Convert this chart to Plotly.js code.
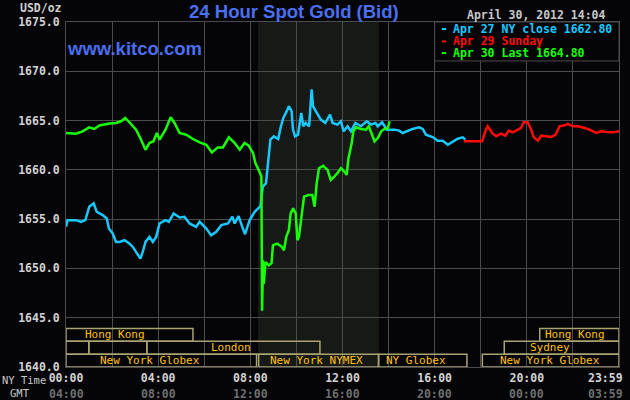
<!DOCTYPE html>
<html><head><meta charset="utf-8">
<script src="https://cdn.plot.ly/plotly-3.0.1.min.js"></script>
<style>html,body{margin:0;padding:0;background:#050508;}#chart{width:630px;height:400px;}</style>
</head><body><div id="chart"></div>
<script>
// ---- data (hours in NY time, price USD/oz) ----
const cyanHours = [0,0.07,0.43,0.65,0.84,1.01,1.20,1.33,1.59,1.77,1.86,2.03,2.17,2.32,2.54,2.75,2.90,3.04,3.23,3.33,3.45,3.62,3.77,3.91,4.06,4.32,4.46,4.67,4.93,5.14,5.36,5.65,5.80,6.09,6.30,6.52,6.74,7.03,7.22,7.32,7.49,7.65,7.77,7.97,8.19,
  8.44,8.54,8.68,8.77,8.87,9.02,9.21,9.31,9.43,9.56,9.67,9.79,9.85,9.94,10.07,10.21,10.30,10.40,10.55,10.66,10.72,10.84,11.06,11.25,11.46,11.57,11.78,11.93,12.05,12.22,12.37,12.56,12.80,13.05,13.24,13.43,13.53,13.72,13.92,
  14.25,14.46,14.61,14.83,15.04,15.33,15.48,15.62,15.91,16.13,16.35,16.57,16.78,17.0,17.22,17.33];
const cyanPrices = [1654.22,1654.9,1654.9,1654.73,1654.9,1656.26,1656.6,1655.75,1655.41,1655.07,1654.05,1653.54,1652.69,1652.69,1652.86,1652.52,1652.18,1651.67,1650.99,1651.67,1652.69,1653.2,1652.69,1653.2,1654.56,1654.9,1654.73,1655.58,1655.17,1655.24,1654.56,1654.22,1654.73,1654.05,1653.37,1653.71,1654.39,1654.56,1655.24,1654.56,1655.31,1654.22,1653.47,1654.9,1655.75,
  1656.33,1658.3,1658.64,1661.02,1663.06,1663.4,1663.13,1664.25,1665.27,1665.85,1666.46,1665.95,1664.08,1663.4,1663.57,1665.78,1664.42,1664.76,1664.42,1668.16,1666.46,1665.95,1665.1,1664.76,1665.61,1664.76,1664.59,1664.93,1663.91,1664.42,1663.91,1664.76,1664.42,1664.93,1664.59,1664.76,1664.42,1664.83,1664.08,
  1664.08,1663.98,1663.74,1663.98,1664.15,1664.32,1664.15,1663.57,1663.33,1662.96,1662.96,1662.55,1662.89,1663.16,1663.3,1663.06];

const redHours = [17.26,18.06,18.2,18.3,18.41,18.49,18.67,18.88,19.07,19.22,19.39,19.61,19.75,19.86,20.04,20.19,20.29,20.48,20.62,20.84,21.06,21.25,21.42,21.64,21.78,22.0,22.22,22.51,22.72,23.01,23.23,23.45,23.74,24.0];
const redPrices = [1662.9,1662.9,1663.91,1664.42,1664.08,1663.74,1663.4,1663.67,1663.47,1663.98,1663.81,1664.08,1664.25,1664.83,1664.83,1664.08,1663.33,1662.96,1663.47,1663.4,1663.33,1663.57,1664.42,1664.52,1664.66,1664.42,1664.42,1664.25,1664.08,1663.74,1663.91,1663.84,1663.81,1663.91];

const greenHours = [0.00,0.43,0.72,1.01,1.23,1.45,1.88,2.17,2.39,2.57,2.75,3.04,3.26,3.45,3.62,3.80,3.94,4.06,4.32,4.54,4.71,4.93,5.22,5.51,5.80,6.09,6.33,6.59,6.81,7.07,7.32,7.54,7.75,7.93,8.12,8.22,8.36,8.48,8.51,8.55,8.58,8.66,8.80,8.92,8.98,9.16,9.35,9.46,9.56,9.67,9.75,9.86,9.97,10.04,10.11,10.23,10.33,10.52,10.69,10.79,10.88,10.98,11.16,11.35,11.49,11.64,11.78,11.93,12.08,12.18,12.26,12.40,12.47,12.59,12.80,13.02,13.14,13.28,13.39,13.53,13.68,13.82,13.97,14.04];
const greenPrices = [1663.74,1663.67,1663.9,1664.3,1664.15,1664.5,1664.7,1664.76,1664.93,1665.27,1664.83,1664.08,1663.06,1662.04,1662.72,1662.9,1663.74,1663.06,1664.08,1665.34,1664.76,1663.74,1663.57,1663.13,1662.79,1662.55,1661.77,1662.28,1662.28,1663.3,1662.72,1662.04,1662.72,1662.45,1661.7,1660.68,1660.0,1659.32,1645.71,1650.82,1648.44,1650.65,1650.31,1650.54,1652.35,1652.52,1652.24,1651.84,1653.2,1653.88,1655.58,1656.09,1655.58,1652.86,1653.2,1655.24,1657.28,1657.45,1657.45,1656.26,1658.64,1660.17,1660.41,1660.0,1658.98,1659.32,1659.66,1660.17,1659.83,1659.49,1661.19,1662.72,1663.91,1664.32,1664.15,1664.08,1664.42,1663.57,1662.89,1663.23,1663.91,1664.15,1664.25,1664.93];

const seriesLabels = ['Apr 27 NY close 1662.80', 'Apr 29 Sunday', 'Apr 30 Last 1664.80'];
const seriesColors = ['#19c8ff', '#ff0a0a', '#19ff0a'];

const gridHours = [0,2,4,6,8,10,12,14,16,18,20,22,24];
const nyTickText = ['00:00','','04:00','','08:00','','12:00','','16:00','','20:00','','23:59'];
const gmtTickText = ['04:00','','08:00','','12:00','','16:00','','20:00','','00:00','','03:59'];

// trading sessions: name, row (0=top), start hour, end hour
const sessionNames  = ['Hong Kong','Hong Kong','','','London','Sydney','New York Globex','New York NYMEX','NY Globex','New York Globex'];
const sessionRows   = [0,0,1,1,1,1,2,2,2,2];
const sessionStarts = [0,20.56,0,0.99,3.51,19.02,0,8.36,13.57,18.07];
const sessionEnds   = [5.51,24,0.99,3.51,11.02,24,8.27,13.56,17.4,24];
const pitStart = 8.33, pitEnd = 13.58;

// ---- styling/layout ----
const labelHour = [2.13,22.07,null,null,7.15,21.0,3.63,10.89,15.2,21.02];
const rowBounds = [[1642.6,1643.9],[1641.3,1642.6],[1640,1641.3]];
const bg = '#050508', grid = '#4c4c4c';
const mono = 'DejaVu Sans Mono, Liberation Mono, monospace';
const sans = 'Liberation Sans, Arial, sans-serif';
const lastLabelX = 1.0109; // right edge of the last time labels (paper)

const traces = [
  {x: cyanHours, y: cyanPrices, color: seriesColors[0]},
  {x: redHours, y: redPrices, color: seriesColors[1]},
  {x: greenHours, y: greenPrices, color: seriesColors[2]}
].map(s => ({x: s.x, y: s.y, type: 'scatter', mode: 'lines', line: {color: s.color, width: 2.5, shape: 'linear'}, hoverinfo: 'skip'}));

const shapes = [];
const annotations = [];
// pit session shading
shapes.push({type:'rect', xref:'x', yref:'paper', x0:pitStart, x1:pitEnd, y0:0, y1:1, fillcolor:'#161916', line:{width:0}, layer:'below'});
// legend box
shapes.push({type:'rect', xref:'x', yref:'y', x0:16, x1:24, y0:1671.05, y1:1675, fillcolor:bg, line:{color:grid, width:1}, layer:'above'});
const legendRowY = [0.9797, 0.9437, 0.9100];
seriesLabels.forEach((t, i) => {
  shapes.push({type:'line', xref:'x', yref:'paper', x0:16.31, x1:16.5, y0:legendRowY[i], y1:legendRowY[i], line:{color:seriesColors[i], width:2}, layer:'above'});
});
// legend text as one block, 12px line pitch
const legendText = seriesLabels.map((t, i) => `<span style="font-size:11.5px;color:${seriesColors[i]}">${t}</span>`).join('<br>');
annotations.push({xref:'paper', yref:'paper', x:0.6972, y:0.9443, xanchor:'left', yanchor:'middle', align:'left', showarrow:false, text:legendText, borderpad:0, font:{family:mono, size:9.23, color:'#ffffff', weight:'bold'}});
// sessions
sessionNames.forEach((n, i) => {
  const rb = rowBounds[sessionRows[i]];
  shapes.push({type:'rect', xref:'x', yref:'y', x0:sessionStarts[i], x1:sessionEnds[i], y0:rb[0], y1:rb[1], line:{color:'#a9a372', width:1.5}, fillcolor:'rgba(0,0,0,0)', layer:'above'});
  if (n) annotations.push({xref:'x', yref:'y', x:labelHour[i], y:(rb[0]+rb[1])/2, xanchor:'center', yanchor:'middle', showarrow:false, text:n, font:{family:mono, size:11, color:'#ffc20a'}});
});
// time label rows (last label pulled inside the page)
const lastIdx = gridHours.length - 1;
annotations.push({xref:'paper', yref:'paper', x:lastLabelX, y:-0.0322, xanchor:'right', yanchor:'middle', showarrow:false, text:nyTickText[lastIdx], font:{family:mono, size:11.5, color:'#d2d2d2', weight:'bold'}});
gridHours.forEach((h, i) => {
  if (!gmtTickText[i]) return;
  if (i === lastIdx) annotations.push({xref:'paper', yref:'paper', x:lastLabelX, y:-0.0772, xanchor:'right', yanchor:'middle', showarrow:false, text:gmtTickText[i], font:{family:mono, size:11.5, color:'#6e6e6e', weight:'bold'}});
  else annotations.push({xref:'x', yref:'paper', x:h, y:-0.0772, xanchor:'center', yanchor:'middle', showarrow:false, text:gmtTickText[i], font:{family:mono, size:11.5, color:'#6e6e6e', weight:'bold'}});
});
const axisTickText = nyTickText.map((t, i) => i === lastIdx ? '' : t);
annotations.push({xref:'paper', yref:'paper', x:-0.076, y:-0.0386, xanchor:'center', yanchor:'middle', showarrow:false, text:'NY Time', font:{family:mono, size:10.5, color:'#c8c8c8'}});
annotations.push({xref:'paper', yref:'paper', x:-0.0833, y:-0.0764, xanchor:'center', yanchor:'middle', showarrow:false, text:'GMT', font:{family:mono, size:10.5, color:'#c8c8c8'}});
annotations.push({xref:'paper', yref:'paper', x:-0.046, y:1.0415, xanchor:'center', yanchor:'middle', showarrow:false, text:'USD/oz', font:{family:mono, size:11.5, color:'#d0d0d0', weight:'bold'}});
annotations.push({xref:'paper', yref:'paper', x:0.980, y:1.0212, xanchor:'right', yanchor:'middle', showarrow:false, text:'April 30, 2012 14:04', font:{family:mono, size:11.5, color:'#c8c8c8', weight:'bold'}});
annotations.push({xref:'paper', yref:'paper', x:-0.001, y:0.9225, xanchor:'left', yanchor:'middle', showarrow:false, text:'www.kitco.com', font:{family:sans, size:18.5, color:'#4a6ff0', weight:'bold'}});

const layout = {
  width: 630, height: 400,
  margin: {l: 66, r: 11, t: 22, b: 33, pad: 0},
  paper_bgcolor: bg, plot_bgcolor: bg,
  showlegend: false,
  title: {text: '24 Hour Spot Gold (Bid)', x: 0.4665, xanchor: 'center', xref: 'container', y: 0.97, yanchor: 'middle', yref: 'container', font: {family: sans, size: 18.5, color: '#4a6ff0', weight: 'bold'}},
  xaxis: {range: [0, 24], tickmode: 'array', tickvals: gridHours, ticktext: axisTickText, showgrid: true, gridcolor: grid, gridwidth: 1, zeroline: false, showline: true, mirror: true, linecolor: grid, ticks: '', tickfont: {family: mono, size: 11.5, color: '#d2d2d2', weight: 'bold'}, ticklabelstandoff: 0, fixedrange: true},
  yaxis: {range: [1640, 1675], dtick: 5, tick0: 1640, tickformat: '.1f', showgrid: true, gridcolor: grid, gridwidth: 1, zeroline: false, showline: true, mirror: true, linecolor: grid, ticks: '', tickfont: {family: mono, size: 11.5, color: '#d2d2d2', weight: 'bold'}, ticklabelstandoff: 3, fixedrange: true},
  shapes: shapes,
  annotations: annotations
};
Plotly.newPlot('chart', traces, layout, {staticPlot: true, displayModeBar: false});
</script></body></html>
